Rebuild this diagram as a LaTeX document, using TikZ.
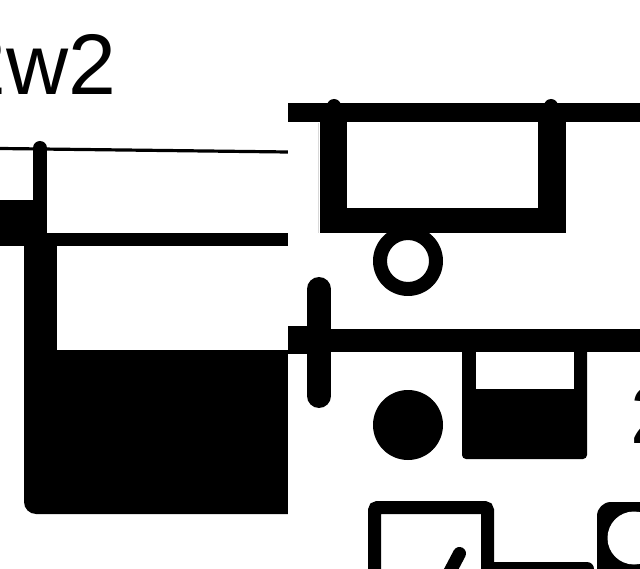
\documentclass[tikz,border=0pt]{standalone}
\usepackage{fontspec}
\setmainfont{Liberation Sans}
\tikzset{
  ink/.style={fill=black,draw=none},
  paper/.style={fill=white,draw=none},
  bigtext/.style={inner sep=0pt,outer sep=0pt,anchor=base west,text=black,font=\fontsize{86}{86}\selectfont},
  sidetext/.style={inner sep=0pt,outer sep=0pt,anchor=base west,text=black,font=\fontsize{82}{82}\selectfont}
}
\begin{document}
\begin{tikzpicture}[x=1pt,y=-1pt]
\useasboundingbox (0,0) rectangle (640,569);
\fill[white] (0,0) rectangle (640,569);
% text
\node[bigtext] (topt) at (-41,95) {2w2};
\node[sidetext] (sidet) at (630,443) {2};
% thin line and stub, top-left
\draw[line width=3.2pt] (0,148.5) -- (288,152);
\draw[line width=14pt,line cap=round] (40,148) -- (40,233);
\fill[ink] (0,200.5) rectangle (47,246);
% ring (clipped by the tile above)
\fill[ink,even odd rule] (408,261) circle (35) (408,261) circle (21);
% large tank
\fill[ink,rounded corners=12pt] (24,300) -- (24,514) -- (320,514) -- (320,300) -- cycle;
\fill[paper] (288,290) rectangle (330,520);
\fill[ink] (24,233) rectangle (288,360);
\fill[paper] (57,246) rectangle (285.5,350);
\fill[black!35] (285.5,246) rectangle (286.3,350);
\fill[paper] (286.3,246) rectangle (288,350);
% top right box
\fill[ink] (288,103) rectangle (640,122.5);
\fill[ink] (320,110) rectangle (565.5,233);
\fill[paper] (346.5,122.5) rectangle (538,208);
\fill[ink] (334,106) circle (7);
\fill[ink] (551,106) circle (7);
\fill[paper] (288,122.5) rectangle (319,233);
\fill[black!15] (318,123) rectangle (319,233);
% cross and bus bar
\fill[ink] (288,326) rectangle (307,354);
\fill[ink] (288,329) rectangle (640,352);
\draw[line width=24pt,line cap=round] (319,289) -- (319,396);
% disc and small tank
\fill[ink] (408,425) circle (35);
\fill[ink,rounded corners=4pt] (462,345) -- (462,459) -- (587,459) -- (587,345) -- cycle;
\fill[ink] (462,345) rectangle (587,360);
\fill[paper] (476,352) rectangle (574,389);
% lower box
\draw[line width=13pt,rounded corners=3pt] (374.5,580) -- (374.5,507.5) -- (487.5,507.5) -- (487.5,580);
\draw[line width=13pt,line cap=round] (459.5,553.5) -- (445,581);
% link bar and rounded frame
\fill[ink,rounded corners=7pt] (481,562) -- (594,562) -- (594,590) -- (481,590) -- cycle;
\fill[ink,rounded corners=14pt] (597,590) -- (597,502) -- (660,502) -- (660,590) -- cycle;
\fill[paper] (634,538) circle (26.5);
\end{tikzpicture}
\end{document}
